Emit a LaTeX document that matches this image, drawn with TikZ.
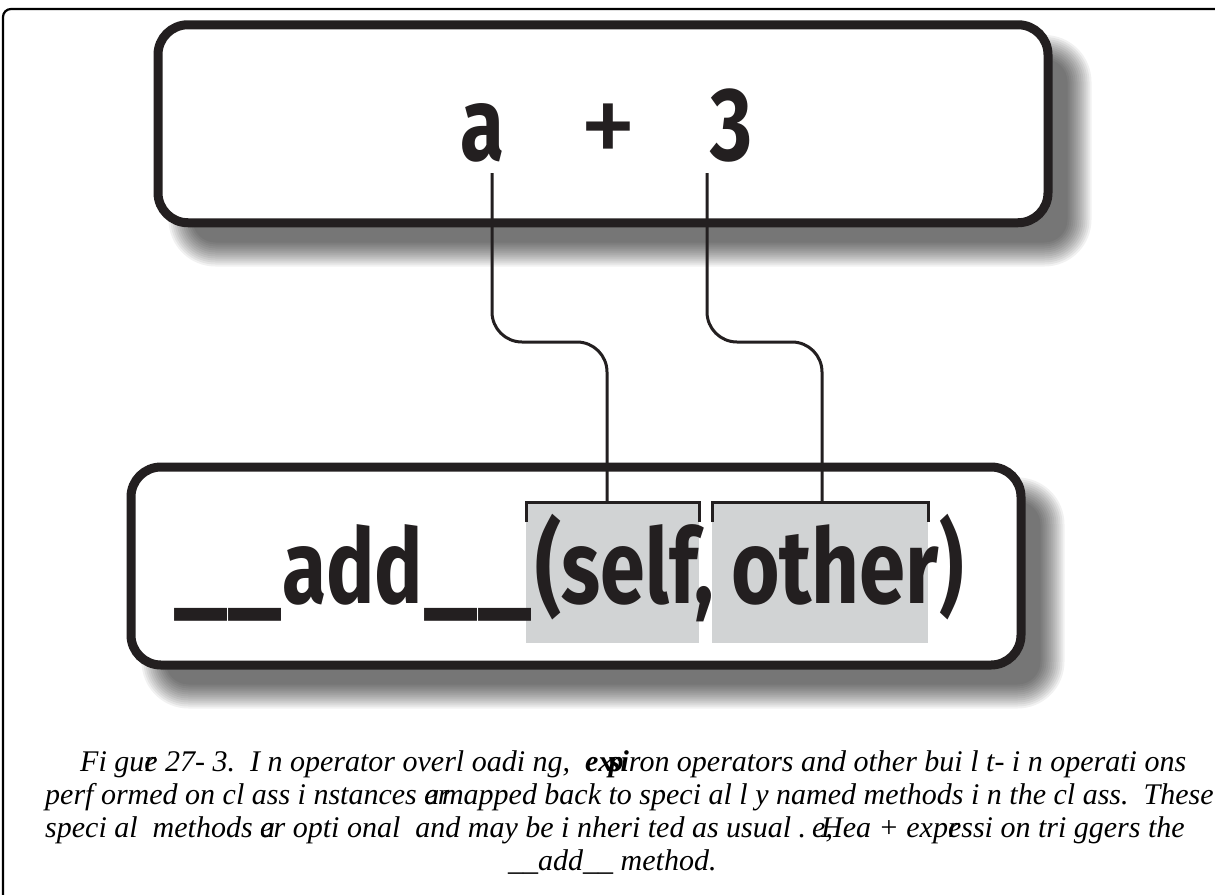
\documentclass[tikz,border=0pt]{standalone}
\usepackage{fontspec}
\usepackage{graphicx}
\setmainfont{Liberation Serif}
\newfontfamily\bigfont[FakeStretch=0.72]{Fira Sans}
\definecolor{ink}{RGB}{35,31,32}
\definecolor{hlgray}{RGB}{209,211,212}
\newsavebox\fitbox
\newlength\fitlen
\newcommand\hfit[2]{\sbox\fitbox{#2}\setlength\fitlen{\wd\fitbox}\pgfmathsetmacro\fitscale{#1/\fitlen}\scalebox{\fitscale}[1]{\usebox\fitbox}}
\newcommand\softshadow[4]{%
  \foreach \e in {-12,-10,...,12}{%
    \fill[black,opacity=0.055,rounded corners={max(35+\e,1)}] ({#1+27-\e},{#2+27-\e}) rectangle ({#3+27+\e},{#4+27+\e});
  }}
\tikzset{
  boxst/.style={draw=ink, line width=9pt, fill=white, rounded corners=30pt, minimum width=890pt, minimum height=198pt, inner sep=0pt},
  bigtxt/.style={font=\bigfont\bfseries\fontsize{104}{110}\selectfont, text=ink, inner sep=0pt, anchor=base},
  conn/.style={draw=ink, line width=3pt, rounded corners=30pt},
  brk/.style={draw=ink, line width=3pt},
  hlbox/.style={fill=hlgray},
  captxt/.style={font=\itshape\fontsize{30}{33}\selectfont, text=black, inner sep=0pt, anchor=base west},
  frame/.style={draw=black, line width=2.2pt, rounded corners=8pt}
}
\begin{document}
\begin{tikzpicture}[x=1pt,y=-1pt]
\useasboundingbox (0,0) rectangle (1215,894);
\clip (0,0) rectangle (1215,894);
\fill[white] (0,0) rectangle (1215,894);
\draw[frame] (3,9) rectangle (1300,1000);
% shadows
\softshadow{153.5}{20}{1052.5}{227.5}
\softshadow{126.5}{462.5}{1025.5}{669.5}
% boxes
\node[boxst] (top) at (603,123.75) {};
\node[boxst] (bottom) at (576,566) {};
% highlights
\fill[hlbox] (526,502) rectangle (699,643);
\fill[hlbox] (712,502) rectangle (928,643);
% top text
\node[bigtxt] (a) at (482,160) {\hfit{44}{a}};
\node[bigtxt, font=\bigfont\mdseries\fontsize{104}{110}\selectfont, anchor=center] (plus) at (608,135) {\scalebox{1.55}[1.16]{+}};
\node[bigtxt] (three) at (731,160) {\hfit{42}{3}};
% bottom text
\node[bigtxt, anchor=base west] (add) at (173,603) {\hfit{109}{\_\_}\hfit{141}{add}\hfit{109}{\_\_}};
\node[bigtxt] (self) at (624.5,603) {\hfit{178}{(self,}};
\node[bigtxt] (other) at (835,603) {\hfit{208}{other}};
\node[bigtxt] (rp) at (951.5,603) {)};
% brackets
\coordinate (selfTop) at (607,502);
\coordinate (otherTop) at (822,502);
\draw[brk] (526,522) |- (selfTop) -| (699,522);
\draw[brk] (712,522) |- (otherTop) -| (928,522);
% connectors
\coordinate (aStart) at (492,173);
\coordinate (tStart) at (707,173);
\coordinate (k1) at (607,342);
\coordinate (k2) at (822,342);
\draw[conn] (aStart) |- (k1) -- (selfTop);
\draw[conn] (tStart) |- (k2) -- (otherTop);
% caption
\node[captxt] (c1) at (80,771) {Fi gu\rlap{r}e 27- 3.\ \ I n operator overl oadi ng,\ \ {\bfseries ex\kern-0.15em s\kern-0.4em p\kern-0.1em i}ron operators and other bui l t- i n operati ons};
\node[captxt] (c2) at (45,804) {perf ormed on cl ass i nstances \rlap{e}a\kern-0.05em r\kern-0.25em mapped back to speci al l y named methods i n the cl ass.\ \ These};
\node[captxt] (c3) at (45,837) {speci al\ \ methods \rlap{e}a\kern-0.05em r opti onal\ \ and may be i nheri ted as usual .\ \ \rlap{\kern-0.3em e,}Hea + exp\rlap{r}essi on tri ggers the};
\node[captxt] (c4) at (508,870) {\_\_add\_\_ method.};
\end{tikzpicture}
\end{document}
